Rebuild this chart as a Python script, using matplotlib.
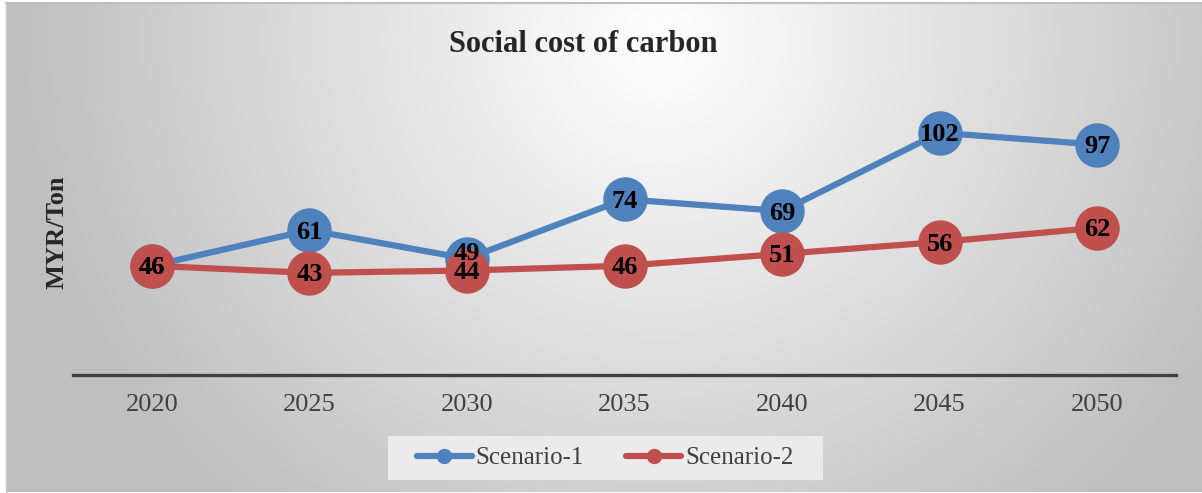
import numpy as np
import matplotlib
matplotlib.use("Agg")
import matplotlib.pyplot as plt
from matplotlib.lines import Line2D
from matplotlib.patches import Rectangle
from matplotlib.transforms import offset_copy

years = ["2020", "2025", "2030", "2035", "2040", "2045", "2050"]
scenario_1 = [46, 61, 49, 74, 69, 102, 97]
scenario_2 = [46, 43, 44, 46, 51, 56, 62]
series_names = ["Scenario-1", "Scenario-2"]
colors = ["#4F81BD", "#C0504D"]

W, H = 1202, 493
fig = plt.figure(figsize=(W / 100, H / 100), dpi=100)
fig.patch.set_facecolor("white")

# radial grey gradient background of the chart area
bg = fig.add_axes([0, 0, 1, 1], zorder=-10)
bg.set_xlim(0, W)
bg.set_ylim(H, 0)
bg.axis("off")
x0, x1, y0, y1 = 6, W, 3, 492
xx, yy = np.meshgrid(np.linspace(x0, x1, 600), np.linspace(y0, y1, 250))
r = np.sqrt(((xx - 660) / 640) ** 2 + ((yy - 40) / 620) ** 2)
val = 1.0 - 0.25 * np.clip(r, 0, 1)
bg.imshow(np.dstack([val, val, val]), extent=(x0, x1, y1, y0), aspect="auto",
          interpolation="bilinear")
bg.plot([x0, x1], [y0, y0], color="#bfbfbf", lw=1.5)
bg.plot([x0, x0], [y0, y1], color="#c8c8c8", lw=1.0)
# legend panel
bg.add_patch(Rectangle((388, 436), 435, 44, facecolor="#ebebeb", edgecolor="none"))

# plot area
left, right = 73 / W, 1176 / W
bottom, top = 1 - 375 / H, 1 - 90 / H
ax = fig.add_axes([left, bottom, right - left, top - bottom])
ax.set_facecolor("none")
x = np.arange(len(years))
for vals, c in zip([scenario_1, scenario_2], colors):
    ax.plot(x, vals, color=c, lw=4.5, marker="o", markersize=32,
            markeredgewidth=0, solid_capstyle="round", zorder=3)

# value labels, centred on the markers; the crowded 2030 label of
# Scenario-1 is lifted a little so it stays readable
lift = {(0, 2): 5.5}
for si, vals in enumerate([scenario_1, scenario_2]):
    for xi, v in zip(x, vals):
        dy = -1.5 + lift.get((si, xi), 0)
        tf = offset_copy(ax.transData, fig=fig, x=0, y=dy, units="points")
        ax.text(xi, v, str(v), ha="center", va="center", fontsize=19,
                fontweight="bold", family="Liberation Serif", color="black",
                zorder=5, transform=tf)

ax.set_xlim(-0.5, len(years) - 0.5)
ax.set_ylim(0, 120)
for s in ["top", "right", "left"]:
    ax.spines[s].set_visible(False)
ax.spines["bottom"].set_color("#404040")
ax.spines["bottom"].set_linewidth(2.4)
ax.set_yticks([])
ax.set_xticks(x)
ax.set_xticklabels(years, family="Liberation Serif", fontsize=19, color="#404040")
ax.tick_params(axis="x", length=0, pad=14)

fig.text(583 / W, 1 - 45 / H, "Social cost of carbon", ha="center", va="center",
         fontsize=22, fontweight="bold", family="Liberation Serif", color="#262626")
fig.text(57 / W, 1 - 232 / H, "MYR/Ton", ha="center", va="center", rotation=90,
         fontsize=19, fontweight="bold", family="Liberation Serif", color="#262626")

handles = [Line2D([0], [0], color=c, lw=4.5, marker="o", markersize=10,
                  solid_capstyle="round") for c in colors]
leg = fig.legend(handles, series_names, loc="center", bbox_to_anchor=(605 / W, 1 - 458 / H),
                 ncol=2, frameon=False, handlelength=2.2,
                 handletextpad=0.15, columnspacing=1.7,
                 prop={"family": "Liberation Serif", "size": 18})
for t in leg.get_texts():
    t.set_color("#404040")

fig.savefig("out.png", dpi=100)
